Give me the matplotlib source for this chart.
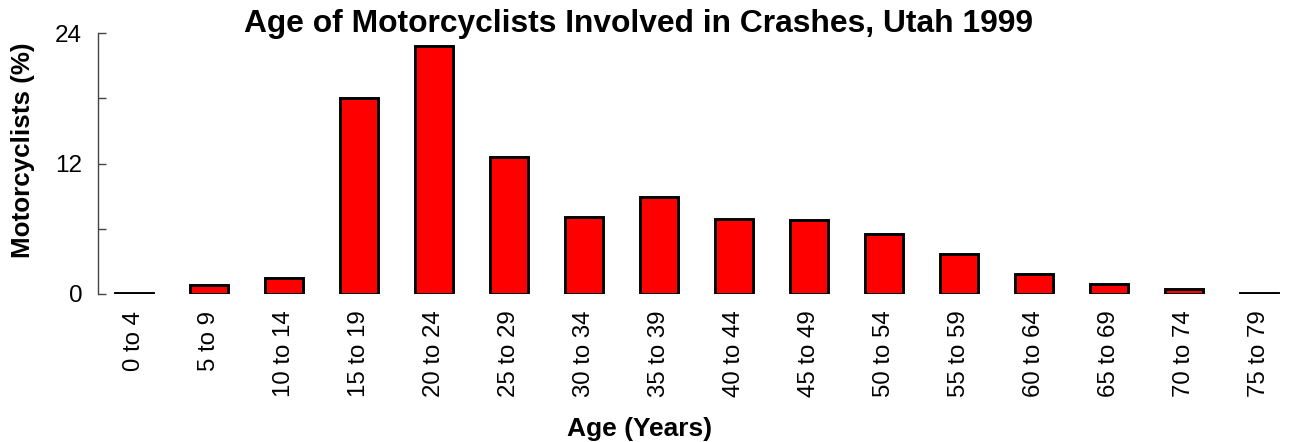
import matplotlib
matplotlib.use("Agg")
import matplotlib.pyplot as plt

plt.rcParams['font.family'] = ['Liberation Sans', 'DejaVu Sans']

age_groups = ['0 to 4', '5 to 9', '10 to 14', '15 to 19', '20 to 24', '25 to 29',
              '30 to 34', '35 to 39', '40 to 44', '45 to 49', '50 to 54', '55 to 59',
              '60 to 64', '65 to 69', '70 to 74', '75 to 79']
percent = [0.08, 0.8, 1.5, 18.0, 22.8, 12.6, 7.1, 8.95, 6.9, 6.8, 5.5, 3.7,
           1.8, 0.95, 0.5, 0.08]
y_major = [0, 12, 24]
y_minor = [6, 18]

W, H = 1291, 442
fig = plt.figure(figsize=(W / 100, H / 100), dpi=100)
ax = fig.add_axes([97.5 / W, (H - 294) / H, (W - 97.5) / W, (294 - 33.3) / H])

x = list(range(len(age_groups)))
ax.bar(x, percent, width=0.5, color='#ff0000', edgecolor='black', linewidth=2.1)

ax.set_xlim(-0.487, 15.43)
ax.set_ylim(0, 24)

for s in ['top', 'right', 'bottom']:
    ax.spines[s].set_visible(False)
ax.spines['left'].set_color('#444444')
ax.spines['left'].set_linewidth(1)

ax.set_yticks(y_major)
ax.set_yticks(y_minor, minor=True)
ax.tick_params(axis='y', which='both', direction='in', length=6, width=1,
               color='#444444', labelsize=17.5, pad=11)
ax.set_xticks(x)
ax.set_xticklabels(age_groups, rotation=90, fontsize=17.3)
ax.tick_params(axis='x', length=0, pad=12)

fig.text(639 / W, 1 - 31.7 / H, 'Age of Motorcyclists Involved in Crashes, Utah 1999',
         ha='center', va='baseline', fontsize=22.9, fontweight='bold')
fig.text(640 / W, 1 - 435.7 / H, 'Age (Years)', ha='center', va='baseline',
         fontsize=19, fontweight='bold')
fig.text(23 / W, 1 - 150 / H, 'Motorcyclists (%)', ha='center', va='center',
         rotation=90, fontsize=18.7, fontweight='bold')

fig.savefig('out.png', dpi=100)
